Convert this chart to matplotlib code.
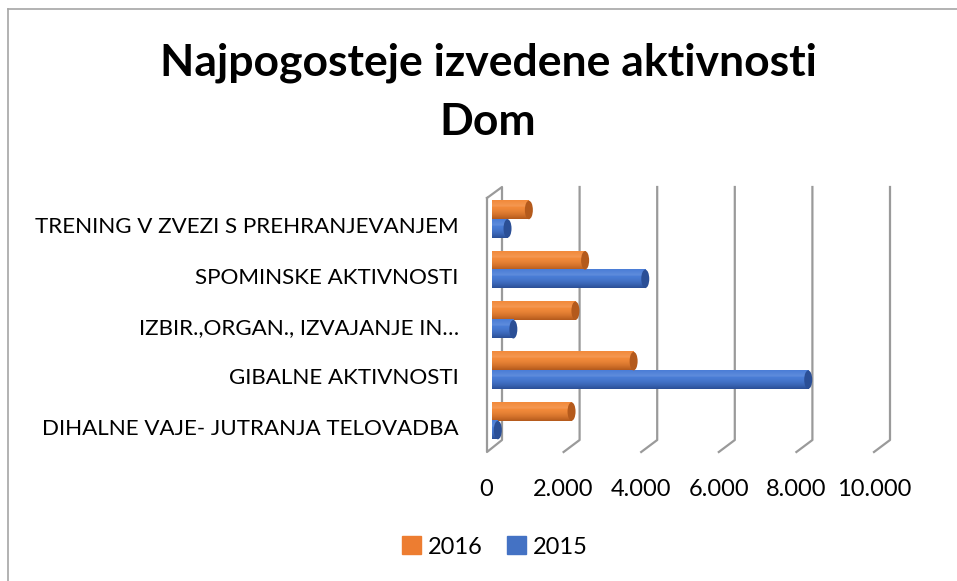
import matplotlib.pyplot as plt
import matplotlib.transforms as mtransforms
import numpy as np
from matplotlib.colors import to_rgb
from matplotlib.patches import Ellipse, Patch

plt.rcParams["font.family"] = ["Lato", "DejaVu Sans"]

# datos (de abajo hacia arriba)
categorias = [
    "DIHALNE VAJE- JUTRANJA TELOVADBA",
    "GIBALNE AKTIVNOSTI",
    "IZBIR.,ORGAN., IZVAJANJE IN…",
    "SPOMINSKE AKTIVNOSTI",
    "TRENING V ZVEZI S PREHRANJEVANJEM",
]
valores_2016 = [2050, 3650, 2150, 2400, 950]
valores_2015 = [150, 8150, 550, 3950, 400]
ticks_x = [0, 2000, 4000, 6000, 8000, 10000]
etiquetas_x = ["0", "2.000", "4.000", "6.000", "8.000", "10.000"]

colores = {
    "2016": ("#F6A060", "#F28A3A", "#B45A1C"),
    "2015": ("#6B95E0", "#4A7DD6", "#2B4F96"),
}

W, H = 957, 581
fig = plt.figure(figsize=(W / 100, H / 100), dpi=100)
ax = fig.add_axes([492 / W, 135 / H, 388 / W, 252 / H])
ax.set_xlim(0, 10000)
ax.set_ylim(-0.5, 4.5)

# conversion pixel -> datos
px_x = 10000 / 388
px_y = 5 / 252


def degradado(claro, medio, oscuro, n=40):
    c1, c2, c3 = np.array(to_rgb(claro)), np.array(to_rgb(medio)), np.array(to_rgb(oscuro))
    filas = []
    for t in np.linspace(0, 1, n):
        if t < 0.35:
            c = c2 + (c1 - c2) * (1 - abs(t - 0.3) / 0.3) * 0.6
        else:
            s = (t - 0.35) / 0.65
            c = c2 * (1 - s ** 1.6) + c3 * s ** 1.6
        filas.append(np.clip(c, 0, 1))
    return np.array(filas).reshape(n, 1, 3)


def cilindro(valor, centro, alto, serie):
    claro, medio, oscuro = colores[serie]
    img = degradado(claro, medio, oscuro)
    ax.imshow(img, extent=(0, valor, centro - alto / 2, centro + alto / 2),
              aspect="auto", interpolation="bilinear", zorder=3)
    tapa = Ellipse((valor, centro), 8 * px_x, alto, facecolor=oscuro,
                   edgecolor="none", zorder=4)
    ax.add_patch(tapa)


alto = 18.5 * px_y
for i in range(len(categorias)):
    cilindro(valores_2016[i], i + alto / 2, alto, "2016")
    cilindro(valores_2015[i], i - alto / 2, alto, "2015")

# rejilla en perspectiva (plano trasero + piso)
gris = "#9A9A9A"
arriba = 1 + 7 * px_y / 5
abajo_tras = 6 * px_y / 5
abajo_front = -6 * px_y / 5
trans = mtransforms.blended_transform_factory(ax.transData, ax.transAxes)
for v in ticks_x[1:]:
    ax.plot([v + 10 * px_x, v + 10 * px_x, v - 6 * px_x],
            [arriba, abajo_tras, abajo_front],
            transform=trans, color=gris, lw=1.6, clip_on=False, zorder=1)

# pared izquierda
ax.plot([-5 * px_x, -5 * px_x, 10 * px_x, 10 * px_x, -5 * px_x],
        [1 - 4 * px_y / 5, abajo_front, abajo_tras, arriba, 1 - 4 * px_y / 5],
        transform=trans, color=gris, lw=1.6, clip_on=False, zorder=1)

for s in ax.spines.values():
    s.set_visible(False)

ax.set_yticks(range(len(categorias)))
ax.set_yticklabels(categorias, fontsize=16.1)
ax.set_xticks(ticks_x)
ax.set_xticklabels(etiquetas_x, fontsize=17)
ax.tick_params(axis="y", length=0, pad=24)
ax.tick_params(axis="x", length=0, pad=24)
for lab in ax.get_yticklabels():
    lab.set_transform(lab.get_transform() + mtransforms.ScaledTranslation(0, -6 / 100, fig.dpi_scale_trans))
for lab in ax.get_xticklabels():
    lab.set_transform(lab.get_transform() + mtransforms.ScaledTranslation(-6 / 100, 0, fig.dpi_scale_trans))

fig.text(488 / W, 1 - 63 / H, "Najpogosteje izvedene aktivnosti", ha="center", va="center",
         fontsize=32, fontweight="bold")
fig.text(488 / W, 1 - 122 / H, "Dom", ha="center", va="center",
         fontsize=32, fontweight="bold")

manejadores = [Patch(color="#ED7D31", label="2016"), Patch(color="#4472C4", label="2015")]
fig.legend(handles=manejadores, loc="center", bbox_to_anchor=(495 / W, 1 - 547 / H), ncol=2,
           frameon=False, fontsize=17, handlelength=0.8, handleheight=0.8,
           handletextpad=0.3, columnspacing=1.0)

# borde del grafico
fig.add_artist(plt.Line2D([8 / W, 8 / W], [0, 1 - 9 / H], transform=fig.transFigure, color="#A6A6A6", lw=1.2))
fig.add_artist(plt.Line2D([8 / W, 1], [1 - 9 / H, 1 - 9 / H], transform=fig.transFigure, color="#A6A6A6", lw=1.2))

fig.savefig("out.png", dpi=100)
